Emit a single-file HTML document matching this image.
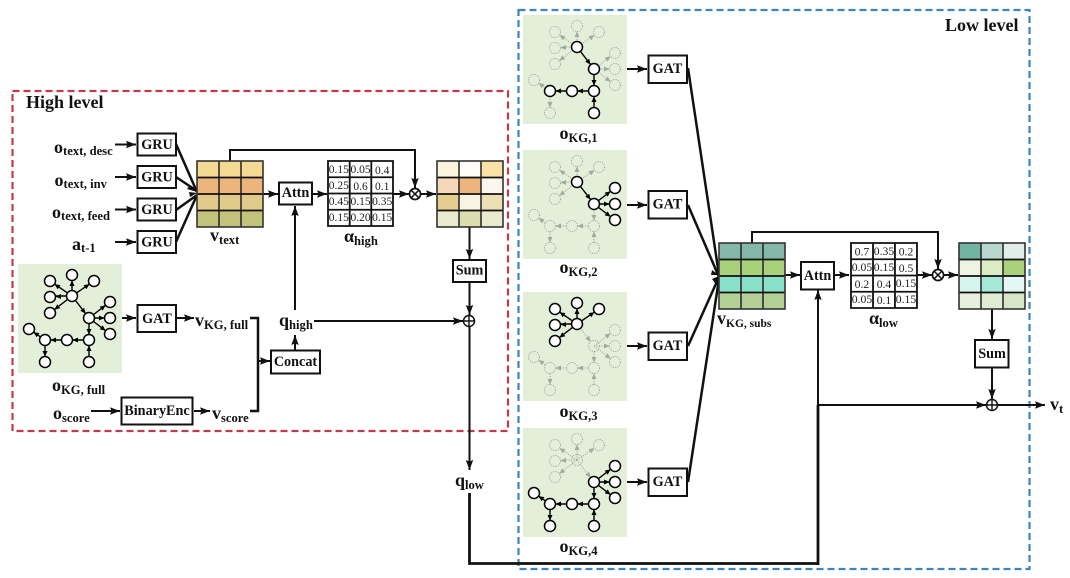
<!DOCTYPE html>
<html><head><meta charset="utf-8">
<style>
html,body{margin:0;padding:0;background:#fff;width:1070px;height:578px;overflow:hidden}
svg{display:block}
text{font-family:"Liberation Serif",serif;font-weight:bold;fill:#111}
.m{font-size:18px}
.s{font-size:12.6px}
.b{font-size:14.2px;text-anchor:middle}
.t{font-size:11.5px;font-weight:normal;text-anchor:middle;fill:#222}
.box{fill:#fff;stroke:#111;stroke-width:2}
.l{fill:none;stroke:#111;stroke-width:2}
.l2{fill:none;stroke:#111;stroke-width:2.5}
.a{marker-end:url(#ar)}
.on{--c:#000;--n:#fff;--w:1.5;--d:none;--ew:1.4;--ed:none}
.off{--c:#a4a8a0;--n:none;--w:1;--d:1.2 1.2;--ew:1;--ed:1.2 1.2}
.nd{fill:var(--n);stroke:var(--c);stroke-width:var(--w);stroke-dasharray:var(--d)}
.ed{stroke:var(--c);stroke-width:var(--ew);stroke-dasharray:var(--ed);fill:none}
.ah{fill:var(--c);stroke:none}
.g{fill:none;stroke:#222;stroke-width:1.5}
</style></head><body>
<svg width="1070" height="578" viewBox="0 0 1070 578" xmlns="http://www.w3.org/2000/svg">
<defs>
<marker id="ar" markerUnits="userSpaceOnUse" markerWidth="11" markerHeight="9" refX="10" refY="4.5" orient="auto"><path d="M0,.8 L10,4.500 L0,8.200 L1.500,4.500Z" fill="#111"/></marker>
<polygon id="ah" class="ah" points="0,0 -5.500,-2.500 -5.500,2.500"/>
<g id="h1"><circle class="nd" cx="72" cy="296" r="5.5"/></g>
<g id="h2"><circle class="nd" cx="89" cy="318" r="5.5"/></g>
<g id="e12"><path class="ed" d="M72,296L85.6,313.6"/><use href="#ah" transform="translate(85.6,313.6) rotate(52.3)"/></g>
<g id="s1">
<path class="ed" d="M72,296L54.5,284.1M72,296V280.5M72,296L89.5,284.1M72,296H55.5M72,296L54.4,309.6"/>
<use href="#ah" transform="translate(54.5,284.1) rotate(-145.7)"/>
<use href="#ah" transform="translate(72,280.5) rotate(-90)"/>
<use href="#ah" transform="translate(89.5,284.1) rotate(-34.3)"/>
<use href="#ah" transform="translate(55.5,296.5) rotate(180)"/>
<use href="#ah" transform="translate(54.4,309.6) rotate(142.3)"/>
<circle class="nd" cx="50" cy="281" r="5.5"/><circle class="nd" cx="72" cy="275" r="5.5"/><circle class="nd" cx="94" cy="281" r="5.5"/><circle class="nd" cx="50" cy="297" r="5.5"/><circle class="nd" cx="50" cy="313" r="5.5"/>
</g>
<g id="s2">
<path class="ed" d="M89,318L105.6,305.3M89,318H104.5M89,318L105.6,330.7"/>
<use href="#ah" transform="translate(105.6,305.3) rotate(-37.3)"/>
<use href="#ah" transform="translate(104.5,318)"/>
<use href="#ah" transform="translate(105.6,330.7) rotate(37.3)"/>
<circle class="nd" cx="110" cy="302" r="5.5"/><circle class="nd" cx="110" cy="318" r="5.5"/><circle class="nd" cx="110" cy="334" r="5.5"/>
</g>
<g id="s3">
<path class="ed" d="M89,323.5V334.5M83.5,340H72.5M61.5,340H50.5M89,356.5V345.5"/>
<use href="#ah" transform="translate(89,334.5) rotate(90)"/>
<use href="#ah" transform="translate(72.5,340) rotate(180)"/>
<use href="#ah" transform="translate(50.5,340) rotate(180)"/>
<use href="#ah" transform="translate(89,345.5) rotate(-90)"/>
<circle class="nd" cx="89" cy="340" r="5.5"/><circle class="nd" cx="67" cy="340" r="5.5"/><circle class="nd" cx="45" cy="340" r="5.5"/><circle class="nd" cx="89" cy="362" r="5.5"/>
</g>
<g id="s4">
<path class="ed" d="M40.5,336.9L33.5,332.1M45,345.5V356.5"/>
<use href="#ah" transform="translate(33.5,332.1) rotate(-145.5)"/>
<use href="#ah" transform="translate(45,356.5) rotate(90)"/>
<circle class="nd" cx="29" cy="329" r="5.5"/><circle class="nd" cx="45" cy="362" r="5.5"/>
</g>
<g id="cells"><path class="g" d="M22,0V66M44,0V66"/><path d="M0,16.5H66M0,33H66M0,49.5H66" stroke="#111" stroke-width="1.8"/><rect width="66" height="66" fill="none" stroke="#333" stroke-width="1.6"/></g>
<g id="tbl"><rect width="65" height="65" fill="#fff"/><path d="M0,0H65V65H0ZM21.7,0V65M43.3,0V65M0,16.25H65M0,32.5H65M0,48.75H65" fill="none" stroke="#111" stroke-width="1.8"/></g>
<g id="otimes"><circle r="5.5" fill="#fff" stroke="#111" stroke-width="1.7"/><path d="M-3.9,-3.9L3.9,3.9M3.9,-3.9L-3.9,3.9" stroke="#111" stroke-width="1.5"/></g>
<g id="oplus"><circle r="5.5" fill="#fff" stroke="#111" stroke-width="1.5"/><path d="M-5.5,0H5.5M0,-5.5V5.5" stroke="#111" stroke-width="1.4"/></g>
</defs>

<!-- dashed frames -->
<rect x="12.5" y="91" width="495.5" height="340" fill="none" stroke="#c23b4c" stroke-width="2.2" stroke-dasharray="7 4"/>
<rect x="518.5" y="10" width="511" height="559" fill="none" stroke="#3a86bd" stroke-width="2.2" stroke-dasharray="7 4"/>

<text x="26" y="108" style="font-size:18px">High level</text>
<text x="945" y="31" style="font-size:18px">Low level</text>

<!-- KG panels -->
<rect x="18" y="264" width="104" height="109" fill="#e4efd9"/>
<rect x="523" y="15" width="104" height="109" fill="#e4efd9"/>
<rect x="523" y="150" width="104" height="109" fill="#e4efd9"/>
<rect x="523" y="292" width="104" height="109" fill="#e4efd9"/>
<rect x="523" y="428" width="104" height="109" fill="#e4efd9"/>

<g class="on"><use href="#e12"/><use href="#s1"/><use href="#s2"/><use href="#s3"/><use href="#s4"/><use href="#h1"/><use href="#h2"/></g>

<g transform="translate(505,-249)">
<g class="off"><use href="#s1"/><use href="#s2"/><use href="#s4"/></g>
<g class="on"><use href="#e12"/><use href="#s3"/><use href="#h1"/><use href="#h2"/></g>
</g>
<g transform="translate(505,-114)">
<g class="off"><use href="#s1"/><use href="#s3"/><use href="#s4"/></g>
<g class="on"><use href="#e12"/><use href="#s2"/><use href="#h1"/><use href="#h2"/></g>
</g>
<g transform="translate(505,28)">
<g class="off"><use href="#e12"/><use href="#s2"/><use href="#s3"/><use href="#s4"/><use href="#h2"/></g>
<g class="on"><use href="#s1"/><use href="#h1"/></g>
</g>
<g transform="translate(505,164)">
<g class="off"><use href="#s1"/><use href="#e12"/><use href="#h1"/></g>
<g class="on"><use href="#s2"/><use href="#s3"/><use href="#s4"/><use href="#h2"/></g>
</g>

<!-- High-level connectors -->
<path class="l a" d="M115,144.5H136"/>
<path class="l a" d="M115,177H136"/>
<path class="l a" d="M115,209.5H136"/>
<path class="l a" d="M115,242H136"/>
<path class="l2" d="M176,144L197,192"/>
<path class="l2" d="M176,177L197,191"/>
<path class="l2" d="M176,210L197,195"/>
<path class="l2" d="M176,242L197,195"/>
<path d="M197,192l-7,-7l-3,4Z M197,193l-8,-1l1,5Z" fill="#111"/>
<path class="l a" d="M230,161V150H415V188"/>
<path class="l a" d="M263,194H278"/>
<path class="l a" d="M313,194H327"/>
<path class="l a" d="M393,194H409"/>
<path class="l a" d="M421,194H436"/>
<path class="l a" d="M469.5,227V259"/>
<path class="l a" d="M469.5,282V315"/>
<path class="l a" d="M295,310V206"/>
<path class="l a" d="M314,321H463"/>
<path class="l a" d="M122,318H136"/>
<path class="l a" d="M177,318H194"/>
<path class="l a" d="M91,411H120"/>
<path class="l a" d="M194,411H210"/>
<path class="l2" d="M250,318H258V411H250"/>
<path class="l a" d="M258,361H270"/>
<path class="l a" d="M295,350V335"/>
<path class="l a" d="M469.5,327V470"/>
<path d="M469.5,493V563.5H818" fill="none" stroke="#111" stroke-width="2.8"/>

<!-- Low-level connectors -->
<path class="l a" d="M627,69H647"/>
<path class="l a" d="M627,205H647"/>
<path class="l a" d="M627,346H647"/>
<path class="l a" d="M627,482H647"/>
<path class="l2" d="M688,68L719,275"/>
<path class="l2" d="M688,205L719,277"/>
<path class="l2" d="M688,346L719,277"/>
<path class="l2" d="M688,482L719,279"/>
<path d="M719,275l-7,-5l-1,5Z M719,276l-7,3l3,4Z" fill="#111"/>
<path class="l a" d="M752,243V232H938V269"/>
<path class="l a" d="M785,275H800"/>
<path class="l a" d="M834,275H849"/>
<path class="l a" d="M917,275H932"/>
<path class="l a" d="M944,275H958"/>
<path class="l a" d="M992,308V339"/>
<path class="l a" d="M992,367V399"/>
<path class="l a" d="M818,405H986"/>
<path class="l a" d="M818,405V290"/>
<path d="M818,405V565" fill="none" stroke="#111" stroke-width="2.8"/>
<path class="l a" d="M998,405H1045"/>

<!-- Boxes -->
<rect class="box" x="137.5" y="133.5" width="38.5" height="22"/><text class="b" x="157" y="149">GRU</text>
<rect class="box" x="137.5" y="166" width="38.5" height="22"/><text class="b" x="157" y="181.500">GRU</text>
<rect class="box" x="137.5" y="198.500" width="38.5" height="22"/><text class="b" x="157" y="214">GRU</text>
<rect class="box" x="137.5" y="231" width="38.5" height="22"/><text class="b" x="157" y="246.500">GRU</text>
<rect class="box" x="137.5" y="305" width="38.5" height="27"/><text class="b" x="157" y="323">GAT</text>
<rect class="box" x="121.5" y="397.500" width="71" height="27"/><text class="b" x="157" y="415">BinaryEnc</text>
<rect class="box" x="279" y="182.500" width="33" height="22"/><text class="b" x="295.500" y="197">Attn</text>
<rect class="box" x="271" y="350.500" width="49" height="23"/><text class="b" x="295.500" y="366">Concat</text>
<rect class="box" x="453" y="260" width="33" height="22"/><text class="b" x="469.500" y="274.500">Sum</text>
<rect class="box" x="648.500" y="55.500" width="38.500" height="27.500"/><text class="b" x="667.500" y="73">GAT</text>
<rect class="box" x="648.500" y="191" width="38.500" height="27.500"/><text class="b" x="667.500" y="208.500">GAT</text>
<rect class="box" x="648.500" y="332.500" width="38.500" height="27.500"/><text class="b" x="667.500" y="350">GAT</text>
<rect class="box" x="648.500" y="468.500" width="38.500" height="27.500"/><text class="b" x="667.500" y="486">GAT</text>
<rect class="box" x="801" y="262" width="33" height="27.500"/><text class="b" x="817.500" y="280">Attn</text>
<rect class="box" x="975" y="340" width="33.500" height="27.500"/><text class="b" x="992" y="358">Sum</text>

<!-- v_text matrix -->
<g transform="translate(197,161)">
<rect width="66" height="16.500" fill="#f5da93"/><rect y="16.500" width="66" height="16.500" fill="#ecb57c"/><rect y="33" width="66" height="16.500" fill="#e2ca8a"/><rect y="49.500" width="66" height="16.500" fill="#c2c27a"/>
<use href="#cells"/></g>
<!-- high result -->
<g transform="translate(437,161)">
<rect width="22" height="16.500" fill="#fbf3dc"/><rect x="22" width="22" height="16.500" fill="#fefcf6"/><rect x="44" width="22" height="16.500" fill="#f8e2a6"/>
<rect y="16.500" width="22" height="16.500" fill="#f5d8b8"/><rect x="22" y="16.500" width="22" height="16.500" fill="#ecb57c"/><rect x="44" y="16.500" width="22" height="16.500" fill="#fdf6ee"/>
<rect y="33" width="22" height="16.500" fill="#e5cd90"/><rect x="22" y="33" width="22" height="16.500" fill="#f8f3e2"/><rect x="44" y="33" width="22" height="16.500" fill="#ecdfb4"/>
<rect y="49.500" width="22" height="16.500" fill="#eaeacf"/><rect x="22" y="49.500" width="22" height="16.500" fill="#dcdcae"/><rect x="44" y="49.500" width="22" height="16.500" fill="#eaeacf"/>
<use href="#cells"/></g>
<!-- v_KG subs matrix -->
<g transform="translate(719,243)">
<rect width="66" height="16.500" fill="#84b9aa"/><rect y="16.500" width="66" height="16.500" fill="#a9d17b"/><rect y="33" width="66" height="16.500" fill="#88e0c9"/><rect y="49.500" width="66" height="16.500" fill="#b5d096"/>
<use href="#cells"/></g>
<!-- low result -->
<g transform="translate(959,243)">
<rect width="22" height="16.500" fill="#72b4a2"/><rect x="22" width="22" height="16.500" fill="#b7d7cf"/><rect x="44" width="22" height="16.500" fill="#e0eeea"/>
<rect y="16.500" width="22" height="16.500" fill="#eef4e2"/><rect x="22" y="16.500" width="22" height="16.500" fill="#dcecc4"/><rect x="44" y="16.500" width="22" height="16.500" fill="#aad27c"/>
<rect y="33" width="22" height="16.500" fill="#d8f4ee"/><rect x="22" y="33" width="22" height="16.500" fill="#a5e8d8"/><rect x="44" y="33" width="22" height="16.500" fill="#e4f7f3"/>
<rect y="49.500" width="22" height="16.500" fill="#e8efdc"/><rect x="22" y="49.500" width="22" height="16.500" fill="#e2ecd4"/><rect x="44" y="49.500" width="22" height="16.500" fill="#d8e6c8"/>
<use href="#cells"/></g>

<!-- alpha high -->
<g transform="translate(328,161)"><use href="#tbl"/>
<text class="t" x="10.800" y="12">0.15</text><text class="t" x="32.500" y="12">0.05</text><text class="t" x="54.200" y="13">0.4</text>
<text class="t" x="10.800" y="28">0.25</text><text class="t" x="32.500" y="29">0.6</text><text class="t" x="54.200" y="29">0.1</text>
<text class="t" x="10.800" y="44">0.45</text><text class="t" x="32.500" y="44">0.15</text><text class="t" x="54.200" y="44">0.35</text>
<text class="t" x="10.800" y="60">0.15</text><text class="t" x="32.500" y="60">0.20</text><text class="t" x="54.200" y="60">0.15</text>
</g>
<!-- alpha low -->
<g transform="translate(851,243) scale(1.015,1)"><use href="#tbl"/>
<text class="t" x="10.800" y="12.500">0.7</text><text class="t" x="32.500" y="12">0.35</text><text class="t" x="54.200" y="12.500">0.2</text>
<text class="t" x="10.800" y="28">0.05</text><text class="t" x="32.500" y="28">0.15</text><text class="t" x="54.200" y="29">0.5</text>
<text class="t" x="10.800" y="45">0.2</text><text class="t" x="32.500" y="45">0.4</text><text class="t" x="54.200" y="44">0.15</text>
<text class="t" x="10.800" y="60">0.05</text><text class="t" x="32.500" y="61">0.1</text><text class="t" x="54.200" y="60">0.15</text>
</g>

<use href="#otimes" x="415" y="194"/>
<use href="#otimes" x="938" y="275"/>
<use href="#oplus" x="469" y="321"/>
<use href="#oplus" x="992" y="405"/>

<!-- labels -->
<text x="54" y="153"><tspan class="m">o</tspan><tspan class="s" dy="2">text, desc</tspan></text>
<text x="54.500" y="186"><tspan class="m">o</tspan><tspan class="s" dy="2">text, inv</tspan></text>
<text x="52" y="218"><tspan class="m">o</tspan><tspan class="s" dy="2">text, feed</tspan></text>
<text x="72" y="250"><tspan class="m">a</tspan><tspan class="s" dy="2">t-1</tspan></text>
<text x="210" y="241"><tspan class="m">v</tspan><tspan class="s" dy="3">text</tspan></text>
<text x="344" y="242"><tspan class="m">α</tspan><tspan class="s" dy="3">high</tspan></text>
<text x="195" y="326"><tspan class="m">v</tspan><tspan class="s" dy="3">KG, full</tspan></text>
<text x="52" y="391"><tspan class="m">o</tspan><tspan class="s" dy="3">KG, full</tspan></text>
<text x="53" y="419"><tspan class="m">o</tspan><tspan class="s" dy="3">score</tspan></text>
<text x="212" y="419"><tspan class="m">v</tspan><tspan class="s" dy="3">score</tspan></text>
<text x="279" y="326"><tspan class="m">q</tspan><tspan class="s" dy="3">high</tspan></text>
<text x="455" y="486"><tspan class="m">q</tspan><tspan class="s" dy="3">low</tspan></text>
<text x="559.500" y="139"><tspan class="m">o</tspan><tspan class="s" dy="3">KG,1</tspan></text>
<text x="559.500" y="273"><tspan class="m">o</tspan><tspan class="s" dy="3">KG,2</tspan></text>
<text x="559.500" y="417"><tspan class="m">o</tspan><tspan class="s" dy="3">KG,3</tspan></text>
<text x="559.500" y="552"><tspan class="m">o</tspan><tspan class="s" dy="3">KG,4</tspan></text>
<text x="717" y="324"><tspan class="m">v</tspan><tspan class="s" dy="3" style="font-size:11.5px">KG, subs</tspan></text>
<text x="869" y="324"><tspan class="m">α</tspan><tspan class="s" dy="3">low</tspan></text>
<text x="1050" y="410"><tspan class="m">v</tspan><tspan class="s" dy="3">t</tspan></text>
</svg>
</body></html>
